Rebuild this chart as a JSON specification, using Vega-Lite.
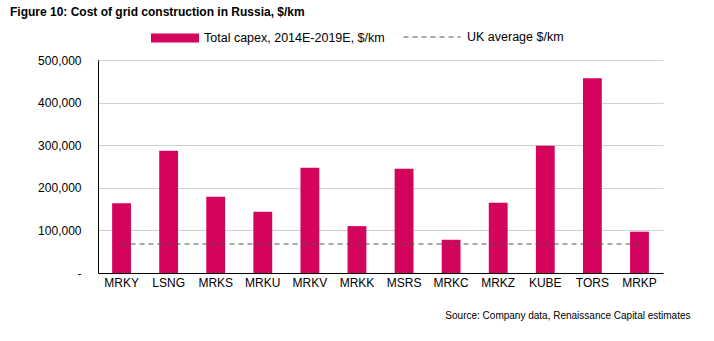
{
  "$schema": "https://vega.github.io/schema/vega-lite/v6.json",
  "autosize": "none",
  "width": 565,
  "height": 213,
  "padding": {"left": 98, "top": 60, "right": 51, "bottom": 68},
  "background": "white",
  "config": {
    "font": "Liberation Sans",
    "view": {"stroke": null},
    "axis": {"labelFont": "Liberation Sans", "titleFont": "Liberation Sans", "labelColor": "#000", "titleColor": "#000"},
    "legend": {"labelFont": "Liberation Sans", "labelColor": "#000", "padding": 0, "labelLimit": 400}
  },
  "title": {
    "text": "Figure 10: Cost of grid construction in Russia, $/km",
    "anchor": "start",
    "frame": "group",
    "dx": -88,
    "dy": 23,
    "offset": 12,
    "fontSize": 12,
    "fontWeight": "bold",
    "color": "#000",
    "font": "Liberation Sans"
  },
  "data": {
    "values": [
      {"company": "MRKY", "capex": 164000, "uk": 68000},
      {"company": "LSNG", "capex": 287000, "uk": 68000},
      {"company": "MRKS", "capex": 179000, "uk": 68000},
      {"company": "MRKU", "capex": 144000, "uk": 68000},
      {"company": "MRKV", "capex": 247000, "uk": 68000},
      {"company": "MRKK", "capex": 110000, "uk": 68000},
      {"company": "MSRS", "capex": 245000, "uk": 68000},
      {"company": "MRKC", "capex": 78000, "uk": 68000},
      {"company": "MRKZ", "capex": 165000, "uk": 68000},
      {"company": "KUBE", "capex": 299000, "uk": 68000},
      {"company": "TORS", "capex": 457000, "uk": 68000},
      {"company": "MRKP", "capex": 97000, "uk": 68000}
    ]
  },
  "encoding": {
    "x": {
      "field": "company",
      "type": "nominal",
      "sort": null,
      "scale": {"paddingInner": 0.6, "paddingOuter": 0.3},
      "axis": {
        "title": "Source: Company data, Renaissance Capital estimates",
        "titleFontSize": 10,
        "titleFontWeight": "normal",
        "titleAnchor": "end",
        "titleAlign": "right",
        "titleBaseline": "middle",
        "titleX": 592,
        "titleY": 42,
        "labelAngle": 0,
        "labelFontSize": 12,
        "labelPadding": 4,
        "ticks": false,
        "domainColor": "#000",
        "domainWidth": 1
      }
    }
  },
  "layer": [
    {
      "mark": {"type": "bar"},
      "encoding": {
        "y": {
          "field": "capex",
          "type": "quantitative",
          "scale": {"domain": [0, 500000], "nice": false},
          "axis": {
            "title": null,
            "values": [0, 100000, 200000, 300000, 400000, 500000],
            "labelExpr": "datum.value == 0 ? '-' : format(datum.value, ',')",
            "labelFontSize": 12,
            "labelPadding": 17,
            "ticks": false,
            "domainColor": "#000",
            "grid": true,
            "gridColor": "#d0d0d0",
            "gridWidth": 1
          }
        },
        "color": {
          "datum": "Total capex, 2014E-2019E, $/km",
          "scale": {"range": ["#d4035c"]},
          "legend": {
            "title": null,
            "orient": "none",
            "legendX": 53,
            "legendY": -46,
            "symbolType": "M-1,-0.19H1V0.19H-1Z",
            "symbolSize": 2304,
            "symbolStrokeWidth": 0,
            "labelFontSize": 12.5,
            "labelOffset": 5
          }
        }
      }
    },
    {
      "mark": {"type": "line", "color": "#555555", "strokeWidth": 1},
      "encoding": {
        "x": {"field": "company", "type": "nominal", "sort": null, "bandPosition": 0.5},
        "y": {"field": "uk", "type": "quantitative"},
        "strokeDash": {
          "datum": "UK average $/km",
          "scale": {"range": [[5, 4]]},
          "legend": {
            "title": null,
            "orient": "none",
            "legendX": 305,
            "legendY": -52,
            "symbolType": "stroke",
            "symbolSize": 3249,
            "symbolStrokeColor": "#555555",
            "symbolStrokeWidth": 1,
            "labelFontSize": 12.5,
            "labelOffset": 6
          }
        }
      }
    }
  ]
}
